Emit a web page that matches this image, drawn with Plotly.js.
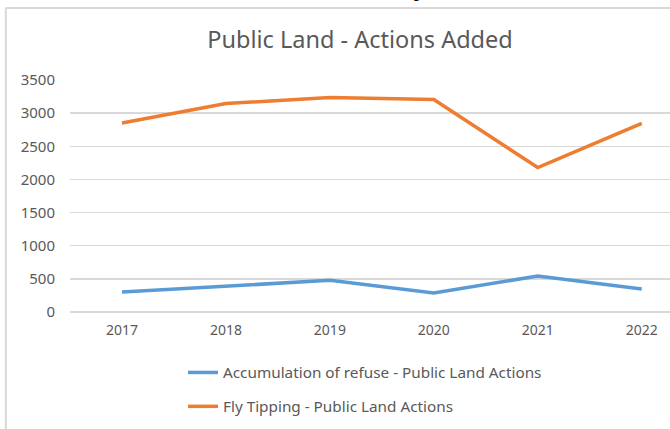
<!DOCTYPE html>
<html>
<head>
<meta charset="utf-8">
<script src="https://cdn.plot.ly/plotly-3.0.1.min.js"></script>
<style>html,body{margin:0;padding:0;background:#fff;}#chart{width:670px;height:429px;}</style>
</head>
<body>
<div id="chart"></div>
<script>
const years = ['2017', '2018', '2019', '2020', '2021', '2022'];
const refuseActions = [300, 390, 478, 287, 543, 347];
const flyTippingActions = [2850, 3145, 3235, 3205, 2180, 2845];
const seriesNames = ['Accumulation of refuse - Public Land Actions', 'Fly Tipping - Public Land Actions'];
const yTicks = [0, 500, 1000, 1500, 2000, 2500, 3000, 3500];

const FONT = 'Noto Sans, sans-serif';
const GREY = '#595959';

const traces = [
  {x: years, y: refuseActions, name: seriesNames[0], type: 'scatter', mode: 'lines',
   line: {color: '#5B9BD5', width: 3.5}, legendgroup: 'a'},
  {x: years, y: flyTippingActions, name: seriesNames[1], type: 'scatter', mode: 'lines',
   line: {color: '#ED7D31', width: 3.5}, legendgroup: 'b'}
];

const left = 69.7, plotTop = 79.5, plotBottom = 311.7, W = 670, H = 429;
const pw = W - left, ph = plotBottom - plotTop;
const px = v => (v - left) / pw;
const py = v => (plotBottom - v) / ph;

const layout = {
  width: W, height: H,
  margin: {l: left, r: 0, t: plotTop, b: H - plotBottom, pad: 0, autoexpand: false},
  paper_bgcolor: '#ffffff', plot_bgcolor: '#ffffff',
  font: {family: FONT, color: GREY},
  title: {text: 'Public Land - Actions Added', font: {family: FONT, size: 23.5, color: GREY},
          xref: 'container', yref: 'container', automargin: false,
          x: 360 / W, xanchor: 'center', y: 1 - 40 / H, yanchor: 'middle'},
  xaxis: {type: 'category', categoryorder: 'array', categoryarray: years,
          range: [-0.5, (W - left) / 104 - 0.5], showgrid: false, showline: false, zeroline: false,
          automargin: false, tickangle: 0,
          ticks: '', tickfont: {family: FONT, size: 14, color: GREY}, ticklabelstandoff: 8, fixedrange: true},
  yaxis: {range: [0, 3500], tickvals: yTicks, ticktext: yTicks.map(String), automargin: false,
          showgrid: true, gridcolor: '#d9d9d9', gridwidth: 1.3,
          zeroline: true, zerolinecolor: '#d9d9d9', zerolinewidth: 1.3, showline: false,
          ticks: '', tickfont: {family: FONT, size: 15, color: GREY}, ticklabelstandoff: 14, fixedrange: true},
  showlegend: true,
  legend: {orientation: 'v', xref: 'container', yref: 'container', x: 183 / W, xanchor: 'left',
           y: 1 - 356 / H, yanchor: 'top', traceorder: 'grouped', tracegroupgap: 11,
           font: {family: FONT, size: 15.3, color: GREY}, bgcolor: 'rgba(0,0,0,0)'},
  shapes: [
    {type: 'line', xref: 'paper', yref: 'paper', x0: px(5.5), x1: px(W + 5), y0: py(7.5), y1: py(7.5),
     line: {color: '#d9d9d9', width: 2}},
    {type: 'line', xref: 'paper', yref: 'paper', x0: px(5.5), x1: px(5.5), y0: py(7.5), y1: py(H + 5),
     line: {color: '#d9d9d9', width: 2}}
  ],
  annotations: [
    {text: '<b>y</b>', xref: 'paper', yref: 'paper', x: px(420), y: py(2.5), xanchor: 'center', yanchor: 'bottom',
     showarrow: false, font: {family: 'Liberation Sans, sans-serif', size: 24, color: '#000000'}}
  ]
};

Plotly.newPlot('chart', traces, layout, {displayModeBar: false, staticPlot: true});
</script>
</body>
</html>
